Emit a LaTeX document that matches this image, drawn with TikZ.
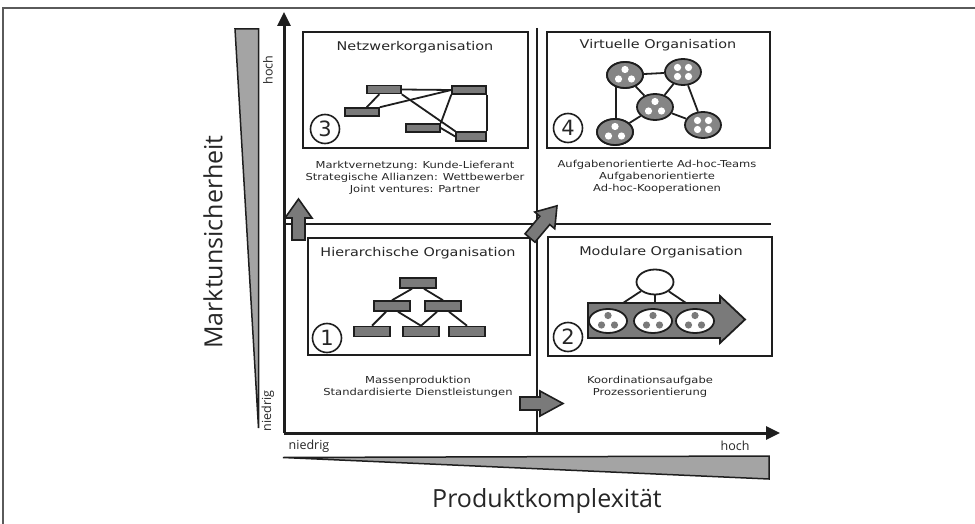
\documentclass[tikz,border=0pt]{standalone}
\usepackage{fontspec}
\setmainfont{DejaVu Sans}[FakeStretch=1.2]
\newfontfamily\bigfont{Open Sans}
\newfontfamily\numfont{DejaVu Sans}
\usetikzlibrary{arrows.meta,shapes.geometric}
\definecolor{ink}{HTML}{1E1E1E}
\definecolor{txt}{HTML}{262626}
\definecolor{unitgray}{HTML}{7A7A7A}
\definecolor{wedgegray}{HTML}{A4A4A4}
\definecolor{teamgray}{HTML}{858585}
\definecolor{framegray}{HTML}{5A5A5A}
\tikzset{
  qbox/.style={draw=ink, line width=2.2pt, inner sep=0pt},
  axis/.style={draw=ink, line width=3pt, -{Triangle[length=14pt,width=13pt]}},
  divider/.style={draw=ink, line width=1.8pt},
  title/.style={text=txt, font=\fontsize{12}{14}\selectfont, inner sep=0pt},
  desc/.style={text=txt, font=\fontsize{9.6}{12}\selectfont, align=center, inner sep=0pt},
  num/.style={circle, draw=ink, line width=1.6pt, minimum size=29pt, inner sep=0pt, text=txt, font=\numfont\fontsize{21}{21}\selectfont},
  unit/.style={draw=ink, fill=unitgray, line width=1.5pt, minimum width=34pt, minimum height=8pt, inner sep=0pt},
  link/.style={draw=ink, line width=1.8pt},
  team/.style={ellipse, draw=ink, fill=teamgray, line width=1.8pt, minimum width=36pt, minimum height=26pt, inner sep=0pt},
  module/.style={ellipse, draw=ink, fill=white, line width=1.8pt, minimum width=38pt, minimum height=24pt, inner sep=0pt},
  garrow/.style={draw=ink, fill=unitgray, line width=1.6pt, line join=miter},
  wedge/.style={draw=ink, fill=wedgegray, line width=1.5pt, line join=miter},
  axlabel/.style={text=txt, font=\bigfont\fontsize{12.5}{14}\selectfont, inner sep=0pt},
  biglabel/.style={text=txt, font=\bigfont\fontsize{25}{28}\selectfont, inner sep=0pt}
}
\begin{document}
\begin{tikzpicture}[x=1pt,y=-1pt]
\useasboundingbox (0,0) rectangle (975,524);
% frame
\draw[framegray, line width=2pt] (975,8) -- (3,8) -- (3,524);
% dividers
\coordinate (vtop) at (537,28);
\coordinate (vbot) at (537,433);
\coordinate (hl) at (284,224);
\coordinate (hr) at (771,224);
\draw[divider] (vtop) -- (vbot);
\draw[divider] (hl) -- (hr);
% axes
\coordinate (O) at (284,433);
\coordinate (ytop) at (284,12);
\coordinate (xend) at (780,433);
\draw[axis] (O) -- (ytop);
\draw[axis] (O) -- (xend);
% wedges
\draw[wedge] (235,29) -- (258.5,29) -- (258.5,428) -- cycle;
\draw[wedge] (283,457.5) -- (769,456) -- (769,479) -- cycle;
% labels
\node[biglabel, rotate=90] (lmu) at (213,242) {Marktunsicherheit};
\node[biglabel] (lpk) at (547,501) {Produktkomplexität};
\node[axlabel, rotate=90] (yh) at (268,70) {hoch};
\node[axlabel, rotate=90] (yn) at (268,411) {niedrig};
\node[axlabel] (xn) at (309,446) {niedrig};
\node[axlabel] (xh) at (735,446) {hoch};

% ---------- Box 3: Netzwerkorganisation
\node[qbox, minimum width=225pt, minimum height=116pt] (b3) at (415.5,90) {};
\node[title] (t3) at (415,47) {Netzwerkorganisation};
\node[num] (n3) at (325,129) {3};
\node[unit] (na) at (384,89.5) {};
\node[unit] (nb) at (469,90) {};
\node[unit] (nc) at (362,112) {};
\node[unit] (nd) at (423,128) {};
\node[unit, minimum width=30pt, minimum height=9pt] (ne) at (471,136.5) {};
\draw[link] (na.east) -- (nb.west);
\draw[link] (na) -- (nc);
\draw[link] (nc.north east) -- (nb.west);
\draw[link] (na.south east) -- (ne.north west);
\draw[link] (nb.south west) -- (nd.north east);
\draw[link] (nb.south east) -- (ne.north east);
\draw[link] (nd.east) -- (ne.west);
\node[desc] (d3) at (415,178) {Marktvernetzung: Kunde-Lieferant\\Strategische Allianzen: Wettbewerber\\Joint ventures: Partner};

% ---------- Box 4: Virtuelle Organisation
\node[qbox, minimum width=223pt, minimum height=116pt] (b4) at (658.5,90) {};
\node[title] (t4) at (658,45) {Virtuelle Organisation};
\node[num] (n4) at (568,128) {4};
\node[team] (v1) at (625,75) {};
\node[team] (v2) at (683,72) {};
\node[team] (v3) at (655,107) {};
\node[team] (v4) at (615,132) {};
\node[team] (v5) at (703,125) {};
\draw[link] (v1) -- (v2);
\draw[link] (v1) -- (v3);
\draw[link] (v1.south west) ++(4,2) coordinate (v1s) (v1s) -- (v4.north west -| v1s);
\draw[link] (v2) -- (v3);
\draw[link] (v2) -- (v5);
\draw[link] (v3) -- (v4);
\draw[link] (v3) -- (v5);
\node[team] at (625,75) {};
\node[team] at (615,132) {};
\foreach \cx/\cy in {625/75, 655/107, 615/132} {
  \fill[white] (\cx,\cy) ++(0,-5.5) circle[radius=3.6pt];
  \fill[white] (\cx,\cy) ++(-6.5,4) circle[radius=3.6pt];
  \fill[white] (\cx,\cy) ++(6.5,4) circle[radius=3.6pt];
}
\foreach \cx/\cy in {683/72, 703/125} {
  \fill[white] (\cx,\cy) ++(-5.5,-4.5) circle[radius=3.6pt];
  \fill[white] (\cx,\cy) ++(5.5,-4.5) circle[radius=3.6pt];
  \fill[white] (\cx,\cy) ++(-5.5,4.5) circle[radius=3.6pt];
  \fill[white] (\cx,\cy) ++(5.5,4.5) circle[radius=3.6pt];
}
\node[desc] (d4) at (657,177) {Aufgabenorientierte Ad-hoc-Teams\\Aufgabenorientierte\\Ad-hoc-Kooperationen};

% ---------- Box 1: Hierarchische Organisation
\node[qbox, minimum width=222pt, minimum height=117pt] (b1) at (419,296.5) {};
\node[title] (t1) at (418,253) {Hierarchische Organisation};
\node[num] (n1) at (327,338) {1};
\node[unit, minimum width=36pt, minimum height=10pt] (h0) at (418,283) {};
\node[unit, minimum width=36pt, minimum height=10pt] (h1) at (392,306) {};
\node[unit, minimum width=36pt, minimum height=10pt] (h2) at (443,306) {};
\node[unit, minimum width=36pt, minimum height=10pt] (h3) at (372,331.5) {};
\node[unit, minimum width=36pt, minimum height=10pt] (h4) at (421,331.5) {};
\node[unit, minimum width=36pt, minimum height=10pt] (h5) at (467,331.5) {};
\draw[link] (h0.south) ++(-6,0) coordinate (h0a) (h0a) -- (h1.north);
\draw[link] (h0.south) ++(6,0) coordinate (h0b) (h0b) -- (h2.north);
\draw[link] (h1.south) ++(-6,0) coordinate (h1a) (h1a) -- (h3.north);
\draw[link] (h1.south) ++(6,0) coordinate (h1b) (h1b) -- (h4.north);
\draw[link] (h2.south) ++(-6,0) coordinate (h2a) (h2a) -- (h4.north);
\draw[link] (h2.south) ++(6,0) coordinate (h2b) (h2b) -- (h5.north);
\node[desc] (d1) at (418,386.5) {Massenproduktion\\Standardisierte Dienstleistungen};

% ---------- Box 2: Modulare Organisation
\node[qbox, minimum width=224pt, minimum height=119pt] (b2) at (660,296.5) {};
\node[title] (t2) at (661,252) {Modulare Organisation};
\node[num] (n2) at (568,337) {2};
\draw[garrow, line width=1.8pt] (588,303) -- (720,303) -- (720,296) -- (745,319.5) -- (720,343) -- (720,338) -- (588,338) -- cycle;
\node[module] (m1) at (608,321) {};
\node[module] (m2) at (653,321) {};
\node[module] (m3) at (695,321) {};
\foreach \cx in {608,653,695} {
  \fill[unitgray] (\cx,321) ++(0,-5.5) circle[radius=3.6pt];
  \fill[unitgray] (\cx,321) ++(-6.5,4) circle[radius=3.6pt];
  \fill[unitgray] (\cx,321) ++(6.5,4) circle[radius=3.6pt];
}
\node[module, minimum width=37pt, minimum height=25pt] (m0) at (655,282) {};
\coordinate (ma) at (623,303);
\coordinate (mb) at (655,303);
\coordinate (mc) at (686,303);
\draw[link] (m0) -- (ma);
\draw[link] (m0) -- (mb);
\draw[link] (m0) -- (mc);
\node[desc] (d2) at (650,386.5) {Koordinationsaufgabe\\Prozessorientierung};

% ---------- gray block arrows
\draw[garrow, shift={(298.5,240)}, rotate=90] (0,-6.5) -- (22,-6.5) -- (22,-13.5) -- (41,0) -- (22,13.5) -- (22,6.5) -- (0,6.5) -- cycle;
\draw[garrow, shift={(530,238)}, rotate=50] (0,-6.5) -- (23,-6.5) -- (23,-13) -- (42,0) -- (23,13) -- (23,6.5) -- (0,6.5) -- cycle;
\draw[garrow, shift={(520,403.5)}, rotate=0] (0,-6.5) -- (20,-6.5) -- (20,-12.5) -- (43,0) -- (20,12.5) -- (20,6.5) -- (0,6.5) -- cycle;
\end{tikzpicture}
\end{document}
